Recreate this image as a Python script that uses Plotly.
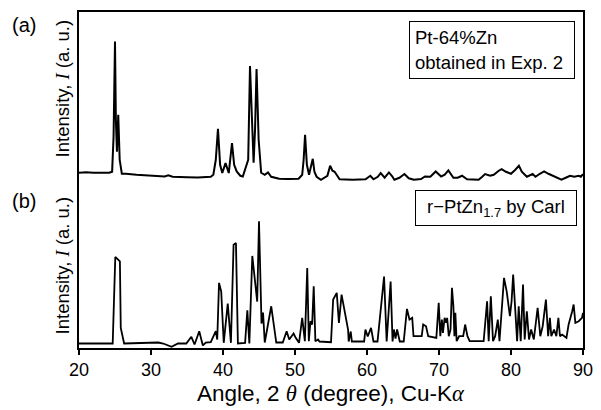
import plotly.graph_objects as go

# (a) measured pattern of Pt-64%Zn, Exp. 2
two_theta_a = [20.0, 21.0, 22.0, 23.0, 24.2, 24.6, 24.8, 24.92, 25.0, 25.12, 25.27, 25.45, 25.65, 25.95,
               26.5, 28.0, 30.0, 31.9, 32.4, 33.0, 35.0, 36.5, 38.3, 38.66, 39.0, 39.3, 39.6, 39.9,
               40.35, 40.8, 41.25, 41.55, 41.9, 42.4, 42.75, 43.2, 43.5, 43.75, 44.0, 44.25, 44.45,
               44.66, 44.95, 45.3, 45.8, 46.25, 46.7, 47.8, 49.0, 50.5, 51.0, 51.2, 51.4, 51.65, 51.95,
               52.2, 52.47, 52.7, 53.0, 53.6, 54.5, 54.88, 55.2, 55.5, 55.9, 56.2, 58.0, 59.8, 60.46,
               60.9, 61.5, 61.9, 62.45, 63.05, 63.5, 63.8, 64.5, 65.2, 65.8, 66.5, 67.5, 68.05, 68.8,
               69.54, 70.3, 70.8, 71.3, 72.0, 72.6, 73.2, 73.9, 75.5, 76.0, 76.4, 77.1, 77.6, 78.3,
               78.7, 79.3, 80.0, 80.6, 81.1, 81.5, 82.2, 83.0, 83.4, 84.0, 84.6, 85.2, 86.0, 87.0,
               87.6, 88.2, 88.8, 89.4, 89.7, 90.0]
intensity_a = [7, 7.5, 7, 7, 7, 8, 43, 100, 138.5, 60, 28, 65, 20, 6,
               6, 5, 4, 3.3, 4.5, 3, 2.5, 2.3, 3, 5, 20, 51, 15, 6.7,
               16.7, 6.7, 36.7, 15, 8.3, 4, 3.3, 13.3, 20, 114, 60, 17, 50,
               111, 40, 7, 5, 7.3, 3, 1, 0.7, 1, 5, 20, 45, 15, 5,
               12, 21, 8, 3, 0, 4, 14, 9, 8, 3, 0.5, 0, 0.5, 4,
               0.5, 3, 6.7, 2, 7.3, 3.5, 0, 2, 5.7, 1.5, 0, 0.7, 3.3, 3,
               8.3, 3.3, 5, 9.3, 2, 2, 4, 0.5, 0, 3, 5.7, 4, 5, 9,
               10.7, 8, 6, 10, 14, 8, 3, 5.7, 3, 6, 8.3, 6, 3, 0,
               2, 4, 3, 4, 3, 5.7]

# (b) reference pattern r-PtZn1.7 (Carl)
two_theta_b = [20.0, 24.68, 25.04, 25.68, 25.8, 26.27, 31.0, 31.7, 32.85, 33.75, 34.9, 35.6, 36.05,
               36.7, 37.2, 37.6, 38.3, 39.0, 39.2, 39.45, 39.75, 40.1, 40.66, 41.1, 41.47, 41.8,
               42.07, 43.07, 43.38, 43.66, 44.07, 44.75, 45.0, 45.35, 45.56, 45.8, 46.7, 47.4, 48.3,
               48.84, 49.2, 49.8, 50.1, 50.56, 51.0, 51.37, 51.7, 51.92, 52.15, 52.38, 52.6, 52.83,
               53.2, 53.4, 55.0, 55.3, 55.8, 56.1, 56.47, 57.37, 57.46, 57.74, 57.9, 59.6, 59.78,
               60.1, 60.56, 60.9, 61.46, 62.37, 62.73, 63.28, 63.55, 63.73, 63.96, 64.18, 64.55,
               65.1, 65.55, 65.9, 66.28, 66.46, 67.6, 67.8, 68.2, 68.5, 69.63, 69.96, 70.18, 70.4,
               70.55, 70.78, 71.0, 71.13, 71.36, 71.6, 71.8, 72.0, 72.14, 72.27, 72.45, 72.8, 73.36,
               73.63, 73.95, 74.26, 76.2, 76.68, 76.9, 77.2, 77.5, 77.8, 78.17, 78.4, 79.03, 79.4,
               79.85, 80.08, 80.3, 80.6, 80.85, 81.07, 81.35, 81.67, 81.9, 82.2, 82.5, 82.8, 83.17,
               83.7, 84.07, 84.4, 84.85, 85.16, 85.4, 85.6, 85.98, 86.3, 86.58, 86.8, 87.1, 87.7,
               88.0, 88.5, 88.7, 88.94, 89.4, 89.86, 90.0]
intensity_b = [0, 0, 86.7, 82.3, 15.7, 0, 1, 0, -3.3, 0, 0, 6.7, -1,
               12.3, -2, 1, 1.3, 12.3, 4, 60.7, 52.3, 0.7, 40, 0.7, 99, 100.7,
               0, 0.7, 33.3, 0, 87.7, 42, 122.5, 20, 31, 1, 37.3, 1, 1,
               12.3, 4, 10, 5.7, 0.7, 25.7, 2.3, 75.7, 2.3, 22.3, 19, 57.3, 2.3,
               4, 2, 1.3, 44, 50.7, 20.7, 49, 14, 2, 12, 2, 2, 14,
               7, 15.7, 2, 2, 67, 2, 62, 2, 14, 5, 14, 2,
               2, 34.7, 24, 25.7, 7.3, 7.3, 19, 17.3, 7.3, 5.7, 40.7, 7.3, 24,
               10.7, 25.7, 20.7, 25.7, 7.3, 14, 55.7, 37.3, 7.3, 30.7, 2.3, 7.3, 7.3,
               19, 7.3, 2.3, 2.3, 42.3, 2.3, 47.3, 2.3, 7.3, 24, 2.3, 65.7, 52.3,
               27.3, 42.3, 69, 29, 2.3, 37.3, 2.3, 59, 4, 32.3, 4, 14, 4,
               35.7, 7.3, 17.3, 44, 7.3, 25.7, 7.3, 14, 7.3, 25.7, 7.3, 9, 5.7,
               19, 32.3, 39, 20.7, 22.3, 25.7, 30.7]

x_ticks = [20, 30, 40, 50, 60, 70, 80, 90]
offset_a = 164  # vertical stacking offset of pattern (a)

SANS = "Liberation Sans, Arial, sans-serif"
SERIF = "Liberation Serif"

fig = go.Figure()
fig.add_trace(go.Scatter(x=two_theta_a, y=[v + offset_a for v in intensity_a], mode="lines",
                         line=dict(color="black", width=2), showlegend=False))
fig.add_trace(go.Scatter(x=two_theta_b, y=intensity_b, mode="lines",
                         line=dict(color="black", width=1.8), showlegend=False))

ylab = f'Intensity, <span style="font-family:{SERIF}"><i>I</i></span> (a. u.)'
annos = [
    dict(text="(a)", x=-0.11, y=0.962, font=dict(size=20)),
    dict(text="(b)", x=-0.11, y=0.4375, font=dict(size=20)),
    dict(text=ylab, x=-0.033, y=0.7708, textangle=-90, font=dict(size=18.5)),
    dict(text=ylab, x=-0.033, y=0.244, textangle=-90, font=dict(size=18.5)),
    dict(text=f'Angle, 2 <span style="font-family:{SERIF}"><i>θ</i></span> (degree), Cu-K'
              f'<span style="font-family:{SERIF}"><i>α</i></span>',
         x=0.5, y=-0.136, font=dict(size=22.5)),
    dict(text="Pt-64%Zn<br>obtained in Exp. 2", x=0.6556, y=0.9732, xanchor="left", yanchor="top",
         align="left", width=154, height=46, borderpad=5, borderwidth=1, bordercolor="black",
         bgcolor="white", font=dict(size=18.5)),
    dict(text="r\u2212PtZn<sub>1.7</sub> by Carl", x=0.8268, y=0.4167, align="center",
         width=154, height=28, borderpad=3, borderwidth=1, bordercolor="black",
         bgcolor="white", font=dict(size=18.5)),
]
for a in annos:
    a.setdefault("xanchor", "center")
    a.setdefault("yanchor", "middle")
    fig.add_annotation(xref="paper", yref="paper", showarrow=False, **a)

fig.update_layout(
    width=601, height=410,
    margin=dict(l=79, r=8, t=12, b=62),
    paper_bgcolor="white", plot_bgcolor="white",
    font=dict(family=SANS, color="black"),
    xaxis=dict(range=[20, 90], tickvals=x_ticks, ticktext=[str(t) for t in x_ticks],
               ticks="outside", ticklen=5, tickwidth=1.5, tickcolor="black",
               ticklabeloverflow="allow", ticklabelstandoff=0,
               showline=True, linewidth=1.5, linecolor="black", mirror=True,
               showgrid=False, zeroline=False, tickfont=dict(size=18)),
    yaxis=dict(range=[-4.5, 332], showticklabels=False, ticks="",
               showline=True, linewidth=1.5, linecolor="black", mirror=True,
               showgrid=False, zeroline=False),
)

fig.write_html("out.html")
